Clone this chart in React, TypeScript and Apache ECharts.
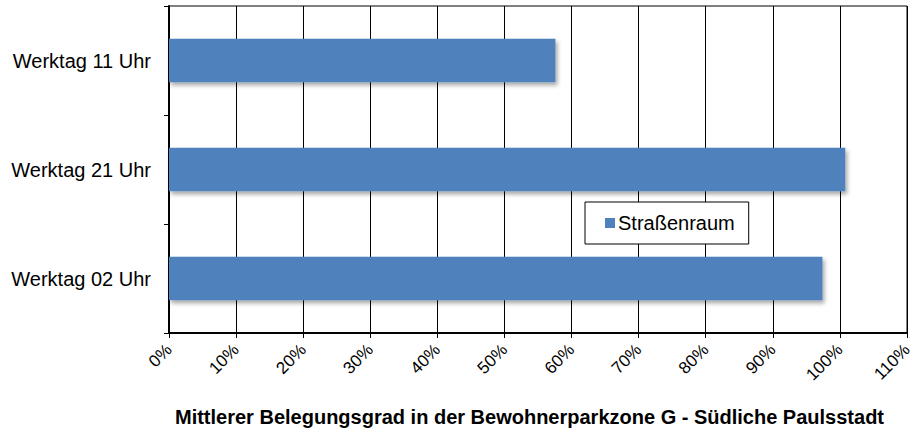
import React, { useEffect, useRef } from "react";
import * as echarts from "echarts";

const categories = ["Werktag 11 Uhr", "Werktag 21 Uhr", "Werktag 02 Uhr"];
const values = [57.6, 100.8, 97.4];
const seriesName = "Straßenraum";
const axisTitle = "Mittlerer Belegungsgrad in der Bewohnerparkzone G - Südliche Paulsstadt";

export default function App() {
  const ref = useRef<HTMLDivElement>(null);
  useEffect(() => {
    if (!ref.current) return;
    const chart = echarts.init(ref.current, null, { renderer: "svg" });
    chart.setOption({
      animation: false,
      textStyle: { fontFamily: "Liberation Sans, Arial, sans-serif", color: "#000" },
      grid: {
        left: 169,
        right: 10,
        top: 6,
        bottom: 100,
        containLabel: false,
        outerBoundsMode: "none",
        show: true,
        borderColor: "#000",
        borderWidth: 1,
      },
      legend: {
        data: [seriesName],
        left: 585,
        top: 202,
        orient: "vertical",
        backgroundColor: "#fff",
        borderColor: "#000",
        borderWidth: 1,
        padding: [11, 14, 11, 20],
        itemWidth: 10,
        itemHeight: 10,
        itemGap: 0,
        icon: "rect",
        textStyle: { fontSize: 20, color: "#000", padding: [0, 0, 0, -2] },
      },
      xAxis: {
        type: "value",
        min: 0,
        max: 110,
        interval: 10,
        name: axisTitle,
        nameLocation: "middle",
        nameGap: 74,
        nameTextStyle: {
          fontSize: 20,
          fontWeight: "bold",
          color: "#000",
          padding: [0, 17, 0, 0],
        },
        axisLine: { show: true, lineStyle: { color: "#000", width: 2 } },
        axisTick: { show: true, length: 5, lineStyle: { color: "#000" } },
        axisLabel: {
          formatter: "{value}%",
          rotate: 45,
          fontSize: 17,
          color: "#000",
          margin: 14,
        },
        splitLine: { show: true, lineStyle: { color: "#000", width: 1 } },
      },
      yAxis: {
        type: "category",
        data: categories,
        inverse: true,
        axisLine: { show: true, lineStyle: { color: "#000", width: 2 } },
        axisTick: { show: true, length: 5, lineStyle: { color: "#000" } },
        axisLabel: { fontSize: 20, color: "#000", margin: 18 },
      },
      series: [
        {
          name: seriesName,
          type: "bar",
          data: values,
          barWidth: "40%",
          itemStyle: {
            color: "#4F81BD",
            shadowColor: "rgba(0,0,0,0.35)",
            shadowBlur: 4,
            shadowOffsetX: 2,
            shadowOffsetY: 3,
          },
        },
      ],
    });
    return () => chart.dispose();
  }, []);
  return (
    <div
      ref={ref}
      style={{ position: "fixed", left: 0, top: 0, width: 917, height: 433, background: "#fff" }}
    />
  );
}
